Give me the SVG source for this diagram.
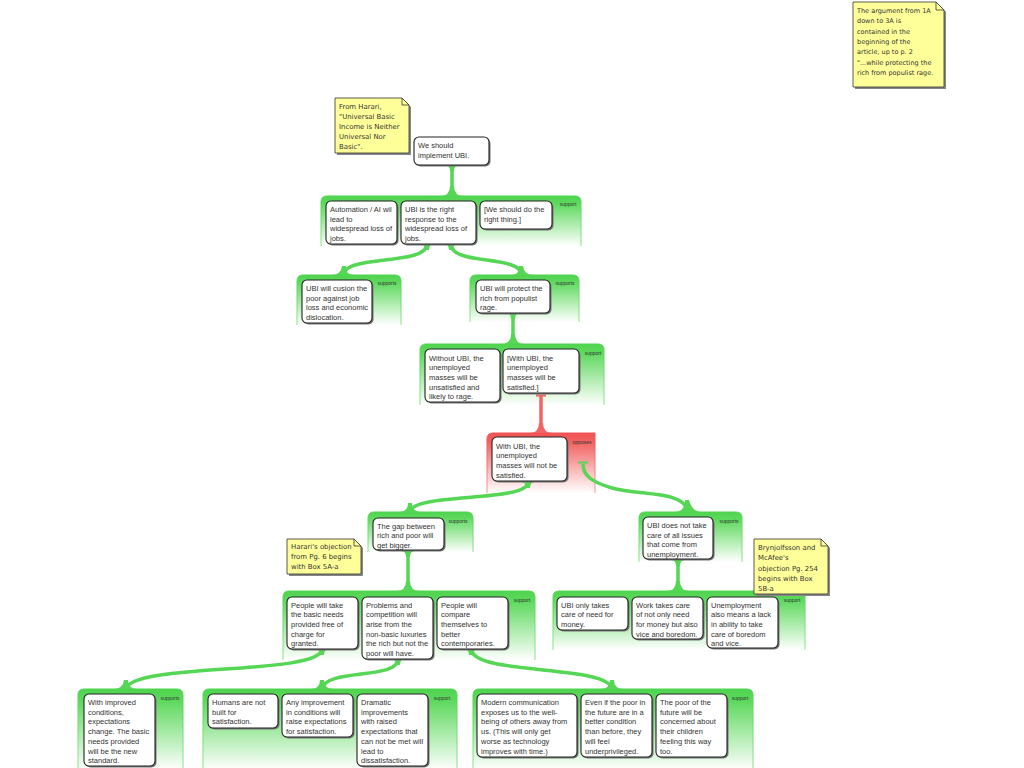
<svg xmlns="http://www.w3.org/2000/svg" width="1024" height="768" viewBox="0 0 1024 768">
<defs>
<linearGradient id="gG" x1="0" y1="0" x2="0" y2="1">
<stop offset="0" stop-color="#4fd44f"/>
<stop offset="0.15" stop-color="#5ed95e"/>
<stop offset="1" stop-color="#ffffff"/>
</linearGradient>
<linearGradient id="gGs" x1="0" y1="0" x2="0" y2="1">
<stop offset="0" stop-color="#4fd44f"/>
<stop offset="1" stop-color="#8fe38f"/>
</linearGradient>
<linearGradient id="gR" x1="0" y1="0" x2="0" y2="1">
<stop offset="0" stop-color="#f05252"/>
<stop offset="0.15" stop-color="#f26262"/>
<stop offset="1" stop-color="#ffffff"/>
</linearGradient>
<linearGradient id="gRs" x1="0" y1="0" x2="0" y2="1">
<stop offset="0" stop-color="#f05252"/>
<stop offset="1" stop-color="#f59a9a"/>
</linearGradient>
</defs>
<style>
.cl{fill:url(#gG);stroke:url(#gGs);stroke-width:1}
.clr{fill:url(#gR);stroke:url(#gRs);stroke-width:1}
.sh{fill:#777}
.nd{fill:#fff;stroke:#222;stroke-width:1.1}
.t{font-family:"Liberation Sans",Arial,sans-serif;font-size:7.5px;fill:#333}
.lb{font-family:"Liberation Sans",Arial,sans-serif;font-size:5px;fill:#333;text-anchor:middle}
.nt{fill:#ffff99;stroke:#333;stroke-width:0.8}
.nsh{fill:#888}
.ntx{font-family:"DejaVu Sans",Verdana,sans-serif;font-size:6.9px;fill:#333}
.ntx2{font-family:"DejaVu Sans",Verdana,sans-serif;font-size:6.5px;fill:#333}
.cg{fill:none;stroke:#55d655;stroke-width:3.5}
.fg{fill:#55d655}
.cr{fill:none;stroke:#f26464;stroke-width:3.5}
.fr{fill:#f26464}
</style>

<!-- clusters -->
<g id="clusters">
<path class="cl" d="M321,246 L321,202 Q321,196 327,196 L575,196 Q581,196 581,202 L581,246"/>
<path class="cl" d="M297,325 L297,281 Q297,275 303,275 L395,275 Q401,275 401,281 L401,325"/>
<path class="cl" d="M470,322 L470,281 Q470,275 476,275 L573,275 Q579,275 579,281 L579,322"/>
<path class="cl" d="M420,405 L420,350 Q420,344 426,344 L598,344 Q604,344 604,350 L604,405"/>
<path class="clr" d="M487,493 L487,439 Q487,433 493,433 L595,433 L595,493"/>
<path class="cl" d="M368,552 L368,518 Q368,512 374,512 L467,512 Q473,512 473,518 L473,552"/>
<path class="cl" d="M639,562 L639,518 Q639,512 645,512 L736,512 Q742,512 742,518 L742,562"/>
<path class="cl" d="M283,660 L283,597 Q283,591 289,591 L529,591 Q535,591 535,597 L535,660"/>
<path class="cl" d="M553,650 L553,597 Q553,591 559,591 L799,591 Q805,591 805,597 L805,650"/>
<path class="cl" d="M78,770 L78,695 Q78,689 84,689 L177,689 Q183,689 183,695 L183,770"/>
<path class="cl" d="M203,770 L203,695 Q203,689 209,689 L451,689 Q457,689 457,695 L457,770"/>
<path class="cl" d="M473,770 L473,695 Q473,689 479,689 L747,689 Q753,689 753,695 L753,770"/>
<text class="lb" x="568" y="206">support</text>
<text class="lb" x="387" y="285">supports</text>
<text class="lb" x="565" y="285">supports</text>
<text class="lb" x="593" y="355">support</text>
<text class="lb" x="582" y="444">opposes</text>
<text class="lb" x="458" y="523">supports</text>
<text class="lb" x="729" y="523">supports</text>
<text class="lb" x="522" y="602">support</text>
<text class="lb" x="792" y="602">support</text>
<text class="lb" x="170" y="700">supports</text>
<text class="lb" x="442" y="700">support</text>
<text class="lb" x="740" y="700">support</text>
</g>

<!-- connectors -->
<g id="connectors">
<path class="cg" d="M452,165 L452,196"/>
<path class="fg" d="M445,165 Q450,165 450,171 L454,171 Q454,165 459,165 Z"/>
<path class="fg" d="M440,196 Q450,196 450,186 L454,186 Q454,196 464,196 Z"/>

<path class="cg" d="M427,244 C427,266 345,254 343,275"/>
<path class="fg" d="M420,244 Q425,244 425,250 L429,250 Q429,244 434,244 Z"/>
<path class="fg" d="M331,275 Q341,275 342,266 L346,266 Q345,275 355,275 Z"/>
<path class="cg" d="M451,244 C451,266 520,254 522,275"/>
<path class="fg" d="M444,244 Q449,244 449,250 L453,250 Q453,244 458,244 Z"/>
<path class="fg" d="M510,275 Q520,275 519,266 L523,266 Q524,275 534,275 Z"/>

<path class="cg" d="M513,313 L513,344"/>
<path class="fg" d="M506,313 Q511,313 511,319 L515,319 Q515,313 520,313 Z"/>
<path class="fg" d="M501,344 Q511,344 511,334 L515,334 Q515,344 525,344 Z"/>

<path class="cr" d="M541,396 L541,433"/>
<path class="cr" d="M536,395.5 L546,395.5" style="stroke-width:2"/>
<path class="fr" d="M529,433 Q539,433 539,423 L543,423 Q543,433 553,433 Z"/>

<path class="cg" d="M528,482 C528,503 412,492 410,512"/>
<path class="fg" d="M521,482 Q526,482 526,488 L530,488 Q530,482 535,482 Z"/>
<path class="fg" d="M398,512 Q408,512 408,503 L412,503 Q412,512 422,512 Z"/>

<path class="cg" d="M688,512 C684,490 640,496 612,488 C592,482 583,476 583,464"/>
<path class="cg" d="M578,462.5 L588,462.5" style="stroke-width:2"/>
<path class="fg" d="M674,512 Q685,512 685,500 L689,500 Q692,512 702,512 Z"/>

<path class="cg" d="M408,551 L408,591"/>
<path class="fg" d="M401,551 Q406,551 406,557 L410,557 Q410,551 415,551 Z"/>
<path class="fg" d="M396,591 Q406,591 406,581 L410,581 Q410,591 420,591 Z"/>

<path class="cg" d="M678,560 L678,591"/>
<path class="fg" d="M671,560 Q676,560 676,566 L680,566 Q680,560 685,560 Z"/>
<path class="fg" d="M666,591 Q676,591 676,581 L680,581 Q680,591 690,591 Z"/>

<path class="cg" d="M322,649 C320,676 132,662 126,689"/>
<path class="fg" d="M315,649 Q320,649 320,655 L324,655 Q324,649 329,649 Z"/>
<path class="fg" d="M113,689 Q123,689 124,680 L128,680 Q128,689 138,689 Z"/>

<path class="cg" d="M398,659 C398,680 326,668 322,689"/>
<path class="fg" d="M391,659 Q396,659 396,665 L400,665 Q400,659 405,659 Z"/>
<path class="fg" d="M310,689 Q320,689 320,680 L324,680 Q324,689 334,689 Z"/>

<path class="cg" d="M471,649 C473,676 608,664 612,689"/>
<path class="fg" d="M464,649 Q469,649 469,655 L473,655 Q473,649 478,649 Z"/>
<path class="fg" d="M600,689 Q610,689 610,680 L614,680 Q614,689 624,689 Z"/>
</g>

<!-- nodes -->
<g id="n_implement"><rect class="sh" x="415.5" y="138.5" width="75" height="28" rx="5"/><rect class="nd" x="414" y="137" width="75" height="28" rx="5"/><text class="t"><tspan x="418" y="148">We should</tspan><tspan x="418" y="157.7">implement UBI.</tspan></text></g>

<g id="n_automation"><rect class="sh" x="327.5" y="202.5" width="71" height="43" rx="5"/><rect class="nd" x="326" y="201" width="71" height="43" rx="5"/><text class="t"><tspan x="330" y="212">Automation / AI wil</tspan><tspan x="330" y="221.7">lead to</tspan><tspan x="330" y="231.4">widespread loss of</tspan><tspan x="330" y="241.1">jobs.</tspan></text></g>

<g id="n_right"><rect class="sh" x="402.5" y="202.5" width="75" height="43" rx="5"/><rect class="nd" x="401" y="201" width="75" height="43" rx="5"/><text class="t"><tspan x="405" y="212">UBI is the right</tspan><tspan x="405" y="221.7">response to the</tspan><tspan x="405" y="231.4">widespread loss of</tspan><tspan x="405" y="241.1">jobs.</tspan></text></g>

<g id="n_dothing"><rect class="sh" x="481.5" y="202.5" width="72" height="28" rx="5"/><rect class="nd" x="480" y="201" width="72" height="28" rx="5"/><text class="t"><tspan x="484" y="212">[We should do the</tspan><tspan x="484" y="221.7">right thing.]</tspan></text></g>

<g id="n_cushion"><rect class="sh" x="303.5" y="281.5" width="70" height="43" rx="5"/><rect class="nd" x="302" y="280" width="70" height="43" rx="5"/><text class="t"><tspan x="306" y="291">UBI will cusion the</tspan><tspan x="306" y="300.7">poor against job</tspan><tspan x="306" y="310.4">loss and economic</tspan><tspan x="306" y="320.1">dislocation.</tspan></text></g>

<g id="n_protect"><rect class="sh" x="477.5" y="281.5" width="74" height="33" rx="5"/><rect class="nd" x="476" y="280" width="74" height="33" rx="5"/><text class="t"><tspan x="480" y="291">UBI will protect the</tspan><tspan x="480" y="300.7">rich from populist</tspan><tspan x="480" y="310.4">rage.</tspan></text></g>

<g id="n_without"><rect class="sh" x="426.5" y="350.5" width="75" height="53" rx="5"/><rect class="nd" x="425" y="349" width="75" height="53" rx="5"/><text class="t"><tspan x="429" y="360.5">Without UBI, the</tspan><tspan x="429" y="370.2">unemployed</tspan><tspan x="429" y="379.9">masses will be</tspan><tspan x="429" y="389.6">unsatisfied and</tspan><tspan x="429" y="399.3">likely to rage.</tspan></text></g>

<g id="n_with"><rect class="sh" x="504.5" y="350.5" width="76" height="44" rx="5"/><rect class="nd" x="503" y="349" width="76" height="44" rx="5"/><text class="t"><tspan x="507" y="360.5">[With UBI, the</tspan><tspan x="507" y="370.2">unemployed</tspan><tspan x="507" y="379.9">masses will be</tspan><tspan x="507" y="389.6">satisfied.]</tspan></text></g>

<g id="n_notsat"><rect class="sh" x="493.5" y="438.5" width="75" height="44" rx="5"/><rect class="nd" x="492" y="437" width="75" height="44" rx="5"/><text class="t"><tspan x="496" y="448.5">With UBI, the</tspan><tspan x="496" y="458.2">unemployed</tspan><tspan x="496" y="467.9">masses will not be</tspan><tspan x="496" y="477.6">satisfied.</tspan></text></g>

<g id="n_gap"><rect class="sh" x="374.5" y="519.5" width="71" height="32" rx="5"/><rect class="nd" x="373" y="518" width="71" height="32" rx="5"/><text class="t"><tspan x="377" y="528.5">The gap between</tspan><tspan x="377" y="538.2">rich and poor will</tspan><tspan x="377" y="547.9">get bigger.</tspan></text></g>

<g id="n_notcare"><rect class="sh" x="644.5" y="518.5" width="70" height="42" rx="5"/><rect class="nd" x="643" y="517" width="70" height="42" rx="5"/><text class="t"><tspan x="647" y="528">UBI does not take</tspan><tspan x="647" y="537.7">care of all issues</tspan><tspan x="647" y="547.4">that come from</tspan><tspan x="647" y="557.1">unemployment.</tspan></text></g>

<g id="n_granted"><rect class="sh" x="288.5" y="598.5" width="71" height="52" rx="5"/><rect class="nd" x="287" y="597" width="71" height="52" rx="5"/><text class="t"><tspan x="291" y="607.5">People will take</tspan><tspan x="291" y="617.2">the basic needs</tspan><tspan x="291" y="626.9">provided free of</tspan><tspan x="291" y="636.6">charge for</tspan><tspan x="291" y="646.3">granted.</tspan></text></g>

<g id="n_problems"><rect class="sh" x="363.5" y="598.5" width="71" height="62" rx="5"/><rect class="nd" x="362" y="597" width="71" height="62" rx="5"/><text class="t"><tspan x="366" y="607.5">Problems and</tspan><tspan x="366" y="617.2">competition will</tspan><tspan x="366" y="626.9">arise from the</tspan><tspan x="366" y="636.6">non-basic luxuries</tspan><tspan x="366" y="646.3">the rich but not the</tspan><tspan x="366" y="656">poor will have.</tspan></text></g>

<g id="n_compare"><rect class="sh" x="438.5" y="598.5" width="71" height="52" rx="5"/><rect class="nd" x="437" y="597" width="71" height="52" rx="5"/><text class="t"><tspan x="441" y="607.5">People will</tspan><tspan x="441" y="617.2">compare</tspan><tspan x="441" y="626.9">themselves to</tspan><tspan x="441" y="636.6">better</tspan><tspan x="441" y="646.3">contemporaries.</tspan></text></g>

<g id="n_money"><rect class="sh" x="558.5" y="598.5" width="71" height="33" rx="5"/><rect class="nd" x="557" y="597" width="71" height="33" rx="5"/><text class="t"><tspan x="561" y="607.5">UBI only takes</tspan><tspan x="561" y="617.2">care of need for</tspan><tspan x="561" y="626.9">money.</tspan></text></g>

<g id="n_work"><rect class="sh" x="633.5" y="598.5" width="71" height="42" rx="5"/><rect class="nd" x="632" y="597" width="71" height="42" rx="5"/><text class="t"><tspan x="636" y="607.5">Work takes care</tspan><tspan x="636" y="617.2">of not only need</tspan><tspan x="636" y="626.9">for money but also</tspan><tspan x="636" y="636.6">vice and boredom.</tspan></text></g>

<g id="n_unemp"><rect class="sh" x="708.5" y="598.5" width="71" height="51" rx="5"/><rect class="nd" x="707" y="597" width="71" height="51" rx="5"/><text class="t"><tspan x="711" y="607.5">Unemployment</tspan><tspan x="711" y="617.2">also means a lack</tspan><tspan x="711" y="626.9">in ability to take</tspan><tspan x="711" y="636.6">care of boredom</tspan><tspan x="711" y="646.3">and vice.</tspan></text></g>

<g id="n_improved"><rect class="sh" x="85.5" y="695.5" width="71" height="72" rx="5"/><rect class="nd" x="84" y="694" width="71" height="72" rx="5"/><text class="t"><tspan x="88" y="705">With improved</tspan><tspan x="88" y="714.7">conditions,</tspan><tspan x="88" y="724.4">expectations</tspan><tspan x="88" y="734.1">change. The basic</tspan><tspan x="88" y="743.8">needs provided</tspan><tspan x="88" y="753.5">will be the new</tspan><tspan x="88" y="763.2">standard.</tspan></text></g>

<g id="n_humans"><rect class="sh" x="209.5" y="695.5" width="70" height="34" rx="5"/><rect class="nd" x="208" y="694" width="70" height="34" rx="5"/><text class="t"><tspan x="212" y="705">Humans are not</tspan><tspan x="212" y="714.7">built for</tspan><tspan x="212" y="724.4">satisfaction.</tspan></text></g>

<g id="n_anyimp"><rect class="sh" x="283.5" y="695.5" width="71" height="43" rx="5"/><rect class="nd" x="282" y="694" width="71" height="43" rx="5"/><text class="t"><tspan x="286" y="705">Any improvement</tspan><tspan x="286" y="714.7">in conditions will</tspan><tspan x="286" y="724.4">raise expectations</tspan><tspan x="286" y="734.1">for satisfaction.</tspan></text></g>

<g id="n_dramatic"><rect class="sh" x="358.5" y="695.5" width="71" height="72" rx="5"/><rect class="nd" x="357" y="694" width="71" height="72" rx="5"/><text class="t"><tspan x="361" y="705">Dramatic</tspan><tspan x="361" y="714.7">improvements</tspan><tspan x="361" y="724.4">with raised</tspan><tspan x="361" y="734.1">expectations that</tspan><tspan x="361" y="743.8">can not be met will</tspan><tspan x="361" y="753.5">lead to</tspan><tspan x="361" y="763.2">dissatisfaction.</tspan></text></g>

<g id="n_modern"><rect class="sh" x="478.5" y="695.5" width="100" height="63" rx="5"/><rect class="nd" x="477" y="694" width="100" height="63" rx="5"/><text class="t"><tspan x="481" y="705">Modern communication</tspan><tspan x="481" y="714.7">exposes us to the well-</tspan><tspan x="481" y="724.4">being of others away from</tspan><tspan x="481" y="734.1">us. (This will only get</tspan><tspan x="481" y="743.8">worse as technology</tspan><tspan x="481" y="753.5">improves with time.)</tspan></text></g>

<g id="n_evenif"><rect class="sh" x="582.5" y="695.5" width="71" height="63" rx="5"/><rect class="nd" x="581" y="694" width="71" height="63" rx="5"/><text class="t"><tspan x="585" y="705">Even if the poor in</tspan><tspan x="585" y="714.7">the future are in a</tspan><tspan x="585" y="724.4">better condition</tspan><tspan x="585" y="734.1">than before, they</tspan><tspan x="585" y="743.8">will feel</tspan><tspan x="585" y="753.5">underprivileged.</tspan></text></g>

<g id="n_poorof"><rect class="sh" x="657.5" y="695.5" width="71" height="63" rx="5"/><rect class="nd" x="656" y="694" width="71" height="63" rx="5"/><text class="t"><tspan x="660" y="705">The poor of the</tspan><tspan x="660" y="714.7">future will be</tspan><tspan x="660" y="724.4">concerned about</tspan><tspan x="660" y="734.1">their children</tspan><tspan x="660" y="743.8">feeling this way</tspan><tspan x="660" y="753.5">too.</tspan></text></g>

<!-- notes -->
<g id="note_harari">
<polygon class="nsh" points="337,100 404,100 411,107 411,155 337,155"/>
<polygon class="nt" points="335,98 402,98 409,105 409,153 335,153"/>
<polygon class="nt" points="402,98 402,105 409,105"/>
<text class="ntx"><tspan x="339" y="109">From Harari,</tspan><tspan x="339" y="119">"Universal Basic</tspan><tspan x="339" y="129">Income is Neither</tspan><tspan x="339" y="139">Universal Nor</tspan><tspan x="339" y="149">Basic".</tspan></text>
</g>

<g id="note_argument">
<polygon class="nsh" points="855,4 938,4 946,12 946,89 855,89"/>
<polygon class="nt" points="853,2 936,2 944,10 944,87 853,87"/>
<polygon class="nt" points="936,2 936,10 944,10"/>
<text class="ntx2"><tspan x="857" y="13">The argument from 1A</tspan><tspan x="857" y="23.3">down to 3A is</tspan><tspan x="857" y="33.6">contained in the</tspan><tspan x="857" y="43.9">beginning of the</tspan><tspan x="857" y="54.2">article, up to p. 2</tspan><tspan x="857" y="64.5">"...while protecting the</tspan><tspan x="857" y="74.8">rich from populist rage.</tspan></text>
</g>

<g id="note_harari_obj">
<polygon class="nsh" points="289,541 356,541 363,548 363,576 289,576"/>
<polygon class="nt" points="287,539 354,539 361,546 361,574 287,574"/>
<polygon class="nt" points="354,539 354,546 361,546"/>
<text class="ntx"><tspan x="291" y="549">Harari's objection</tspan><tspan x="291" y="559">from Pg. 6 begins</tspan><tspan x="291" y="569">with Box 5A-a</tspan></text>
</g>

<g id="note_bryn">
<polygon class="nsh" points="756,541 823,541 830,548 830,596 756,596"/>
<polygon class="nt" points="754,539 821,539 828,546 828,594 754,594"/>
<polygon class="nt" points="821,539 821,546 828,546"/>
<text class="ntx"><tspan x="758" y="550">Brynjolfsson and</tspan><tspan x="758" y="560">McAfee's</tspan><tspan x="758" y="570.5">objection Pg. 254</tspan><tspan x="758" y="581">begins with Box</tspan><tspan x="758" y="591">5B-a</tspan></text>
</g>
</svg>
